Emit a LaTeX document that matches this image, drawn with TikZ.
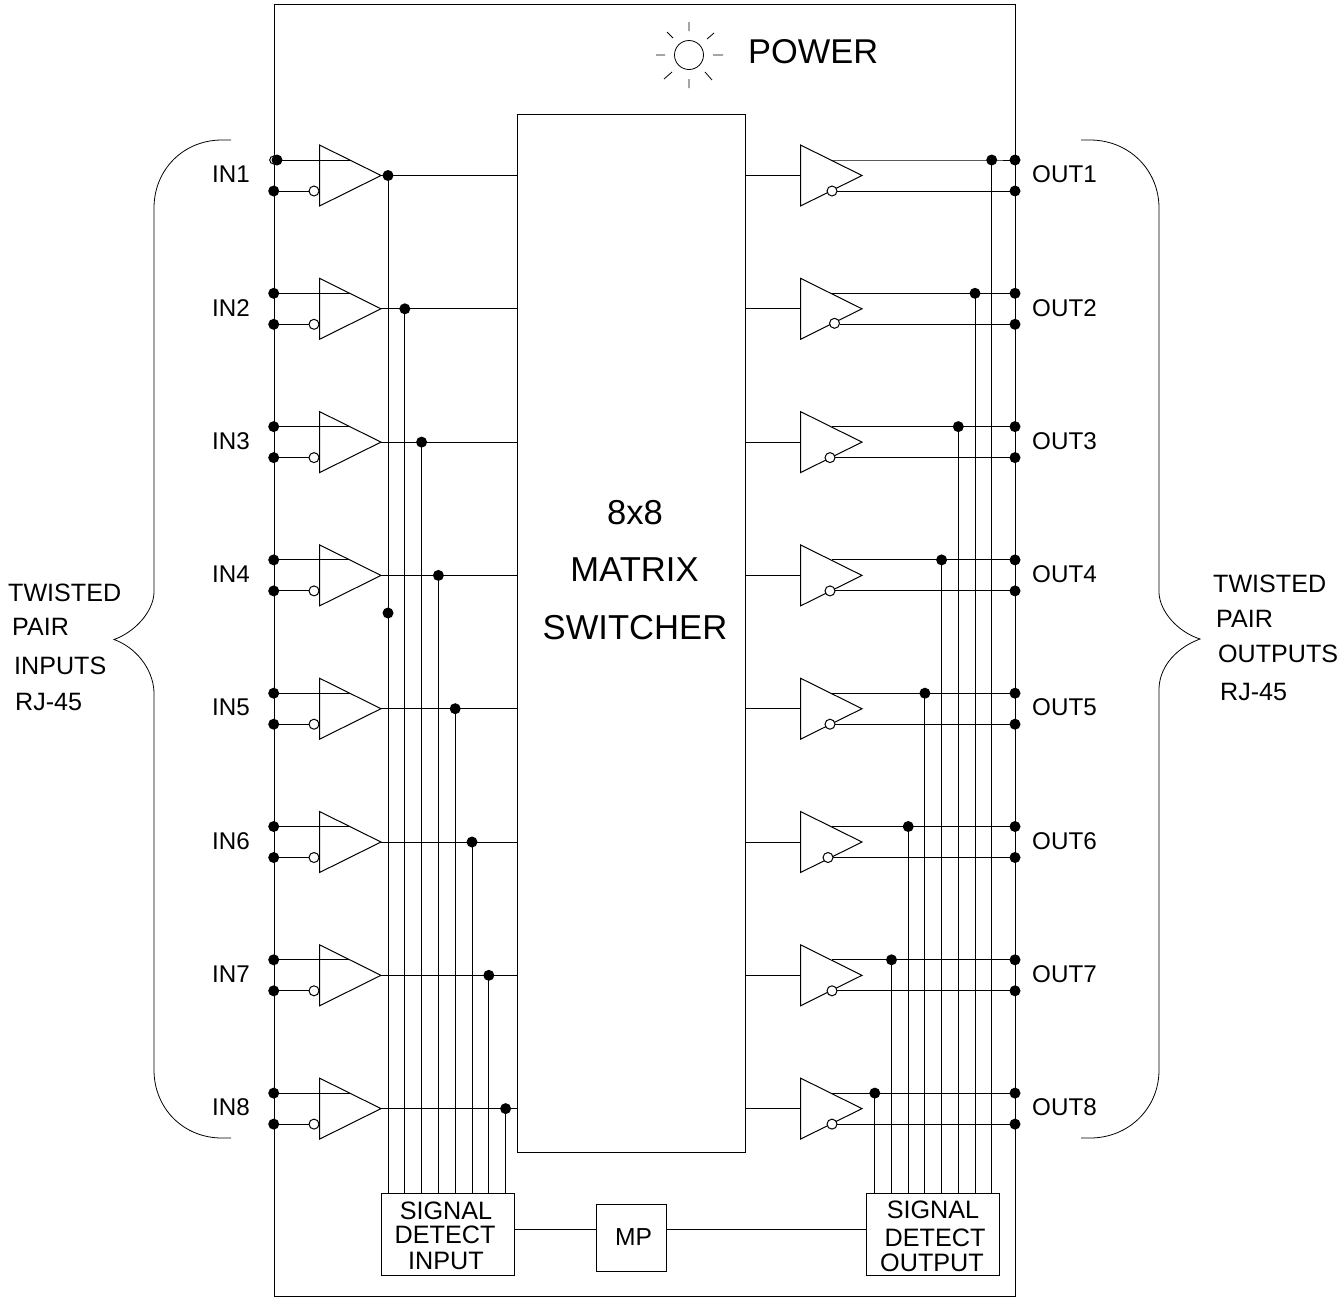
\documentclass[tikz,border=0pt]{standalone}
\usepackage{fontspec}
\setmainfont{Liberation Sans}
\usetikzlibrary{shapes.geometric}
\tikzset{
  wire/.style={line width=1pt,black},
  thinwire/.style={line width=0.8pt,black},
  boxed/.style={draw,line width=1pt,inner sep=0pt,outer sep=0pt},
  amp/.style={draw,line width=1pt,isosceles triangle,isosceles triangle stretches=true,minimum height=61.5pt,minimum width=61pt,inner sep=0pt,outer sep=0pt,anchor=apex},
  bubble/.style={circle,draw,fill=white,line width=1pt,minimum size=10pt,inner sep=0pt,outer sep=0pt},
  dotj/.style={circle,fill=black,draw=none,minimum width=9.5pt,minimum height=11pt,inner sep=0pt,outer sep=0pt},
  lab/.style={anchor=base west,inner sep=0pt,font=\fontsize{24.2}{24.2}\selectfont},
  side/.style={anchor=base west,inner sep=0pt,font=\fontsize{25.1}{25.1}\selectfont},
  big/.style={anchor=base,inner sep=0pt,font=\fontsize{34.6}{34.6}\selectfont},
  sdt/.style={anchor=base,inner sep=0pt,font=\fontsize{25.2}{25.2}\selectfont},
}
\begin{document}
\begin{tikzpicture}[x=1pt,y=-1pt,line join=miter]
\useasboundingbox (0,0) rectangle (1340,1299);
\fill[white] (0,0) rectangle (1340,1299);
% main blocks
\node[boxed,minimum width=741pt,minimum height=1292pt] (chassis) at (644.5,650) {};
\node[boxed,minimum width=228pt,minimum height=1038pt] (matrix) at (631,633) {};
\node[boxed,minimum width=132.5pt,minimum height=82pt] (sdi) at (447.75,1234) {};
\node[boxed,minimum width=69.5pt,minimum height=67pt] (mp) at (631.25,1237.5) {};
\node[boxed,minimum width=132.5pt,minimum height=82pt] (sdo) at (932.75,1234) {};
\draw[wire] (sdi.east |- 0,1229.5) coordinate (sdiR) -- (mp.west |- sdiR);
\draw[wire] (mp.east |- sdiR) -- (sdo.west |- sdiR);
% rows
\foreach \i/\bx/\by in {1/832/0,2/834.5/-1,3/830/0,4/830/0,5/830/0,6/828/0,7/832/0,8/832/0}{
  \pgfmathsetmacro{\cy}{175.5+133.3*(\i-1)}
  \pgfmathsetmacro{\up}{\cy-15.5}
  \pgfmathsetmacro{\lo}{\cy+15.5}
  \pgfmathsetmacro{\tl}{388+16.8*(\i-1)}
  \pgfmathsetmacro{\tr}{991.7-16.7*(\i-1)}
  \pgfmathsetmacro{\lowb}{\lo+\by}
  % input amp
  \node[amp] (ia\i) at (381,\cy) {};
  \node[dotj] (ibl\i) at (273.7,\lo) {};
  \node[bubble] (ibb\i) at (314,\lo) {};
  \draw[wire] (ibl\i.center) -- (ibb\i.west);
  \node[dotj] (tl\i) at (\tl,\cy) {};
  \draw[wire] (ia\i.apex) -- (tl\i.center) -- (tl\i.center -| matrix.west);
  \draw[wire] (tl\i.center) -- (tl\i.center |- sdi.north);
  % output amp
  \node[amp] (oa\i) at (862,\cy) {};
  \draw[wire] (matrix.east |- oa\i.apex) -- (800.5,\cy) coordinate (oi\i);
  \coordinate (ou\i) at (832,\up);
  \node[bubble] (obb\i) at (\bx,\lowb) {};
  \node[dotj] (tr\i) at (\tr,\up) {};
  \node[dotj] (obu\i) at (1015,\up) {};
  \node[dotj] (obl\i) at (1015,\lo) {};
  \draw[wire] (ou\i) -- (tr\i.center) -- (obu\i.center);
  \draw[wire] (obb\i.east |- obl\i.center) -- (obl\i.center);
  \draw[wire] (tr\i.center) -- (tr\i.center |- sdo.north);
  % labels
  \node[lab] (inl\i) at (212,\cy+7.2) {IN\i};
  \node[lab] (outl\i) at (1032,\cy+7.2) {OUT\i};
}
% first input row's upper contact, other rows
\coordinate (iuA) at (273.7,160);
\draw[wire] (iuA) circle (4pt);
\node[dotj] (ibu1) at (277,160) {};
\draw[wire] (ibu1.center) -- (ibu1.center -| ia1.left side);
\foreach \i in {2,...,8}{
  \pgfmathsetmacro{\up}{175.5+133.3*(\i-1)-15.5}
  \node[dotj] (ibu\i) at (273.7,\up) {};
  \draw[wire] (ibu\i.center) -- (ibu\i.center -| ia\i.left side);
}
\node[dotj] (xdot) at (388,613) {};
% sun
\node[circle,draw,line width=0.8pt,minimum size=29pt,inner sep=0pt] (sun) at (689,55) {};
\draw[thinwire] (689,22)--(689,31) (689,79)--(689,88) (656,55)--(665,55) (713,55)--(723,55)
  (667,32)--(673,38) (707,39)--(714,33) (664,79)--(672,72) (705,72)--(712,80);
% braces
\draw[thinwire] (231,140) -- (222,140) .. controls (183,140) and (154,170) .. (154,208) -- (154,593)
  .. controls (153,612) and (135,632) .. (114,639.5) .. controls (135,647) and (153,668) .. (154,692)
  -- (154,1070) .. controls (154,1108) and (183,1138) .. (222,1138) -- (231,1138);
\draw[thinwire] (1081,140) -- (1090,140) .. controls (1129,140) and (1159,170) .. (1159,208) -- (1159,593)
  .. controls (1160,612) and (1178,632) .. (1200,639) .. controls (1178,647) and (1160,665) .. (1159,688)
  -- (1159,1070) .. controls (1159,1108) and (1129,1138) .. (1090,1138) -- (1081,1138);
% texts
\node[anchor=base west,inner sep=0pt,font=\fontsize{34.4}{34.4}\selectfont] (power) at (748,63.5) {POWER};
\node[big] (m1) at (635,524.5) {8x8};
\node[big] (m2) at (634.5,581.5) {MATRIX};
\node[big] (m3) at (635,639.5) {SWITCHER};
\node[sdt] (s1) at (446,1219) {SIGNAL};
\node[sdt] (s2) at (445,1243) {DETECT};
\node[sdt] (s3) at (446,1269) {INPUT};
\node[sdt] (o1) at (933,1218) {SIGNAL};
\node[sdt] (o2) at (935,1246) {DETECT};
\node[sdt] (o3) at (932,1271) {OUTPUT};
\node[anchor=base,inner sep=0pt,font=\fontsize{24.6}{24.6}\selectfont] (mpt) at (633.5,1245.5) {MP};
\node[side] (l1) at (8,601.5) {TWISTED};
\node[side] (l2) at (12,635.5) {PAIR};
\node[side] (l3) at (14,674.5) {INPUTS};
\node[side] (l4) at (15,710.5) {RJ-45};
\node[side] (r1) at (1213,592.5) {TWISTED};
\node[side] (r2) at (1216,627.5) {PAIR};
\node[side] (r3) at (1218,662.5) {OUTPUTS};
\node[side] (r4) at (1220,700.5) {RJ-45};
\end{tikzpicture}
\end{document}
